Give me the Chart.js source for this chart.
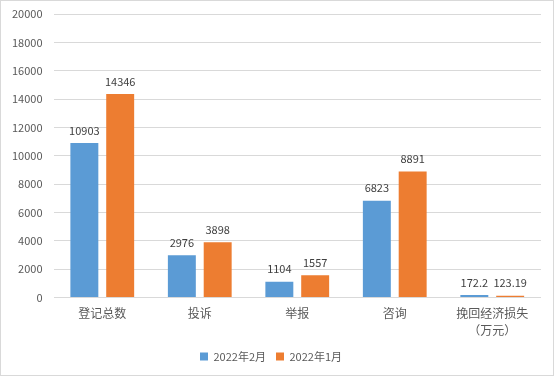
<!DOCTYPE html>
<html><head><meta charset="utf-8">
<script src="https://cdn.jsdelivr.net/npm/chart.js@4/dist/chart.umd.min.js"></script>
<style>
html,body{margin:0;padding:0;background:#fff;}
#wrap{position:relative;width:552px;height:374px;border:1px solid #d9d9d9;}
</style></head>
<body><div id="wrap"><canvas id="c"></canvas></div>
<script>
const categories = ["登记总数", "投诉", "举报", "咨询", ["挽回经济损失", "（万元）"]];
const feb2022 = [10903, 2976, 1104, 6823, 172.2];
const jan2022 = [14346, 3898, 1557, 8891, 123.19];
const seriesNames = ["2022年2月", "2022年1月"];
const yTicks = [0, 2000, 4000, 6000, 8000, 10000, 12000, 14000, 16000, 18000, 20000];

const fontFam = '"Microsoft YaHei","Noto Sans CJK SC","DejaVu Sans",sans-serif';

const labelPlugin = {
  id: 'vlabels',
  afterDatasetsDraw(chart) {
    const ctx = chart.ctx;
    ctx.save();
    ctx.font = '11px ' + fontFam;
    ctx.fillStyle = '#404040';
    ctx.textAlign = 'center';
    ctx.textBaseline = 'bottom';
    chart.data.datasets.forEach((ds, i) => {
      chart.getDatasetMeta(i).data.forEach((bar, j) => {
        ctx.fillText(String(ds.data[j]), bar.x, bar.y - 7);
      });
    });
    ctx.restore();
  }
};

new Chart(document.getElementById('c'), {
  type: 'bar',
  data: {
    labels: categories,
    datasets: [
      { label: seriesNames[0], data: feb2022, backgroundColor: '#5b9bd5', categoryPercentage: 0.735, barPercentage: 0.78 },
      { label: seriesNames[1], data: jan2022, backgroundColor: '#ed7d31', categoryPercentage: 0.735, barPercentage: 0.78 }
    ]
  },
  options: {
    responsive: true,
    maintainAspectRatio: false,
    animation: false,
    layout: { padding: { top: 13, right: 12, left: 0, bottom: 4 } },
    plugins: {
      legend: {
        position: 'bottom',
        maxHeight: 30,
        labels: { boxWidth: 8, boxHeight: 8, font: { size: 11, family: fontFam }, color: '#595959', padding: 10 }
      },
      tooltip: { enabled: false }
    },
    scales: {
      x: {
        grid: { display: false },
        border: { display: false },
        afterFit(axis) { axis.height += 2; },
        ticks: { font: { size: 12, family: fontFam, lineHeight: 1.4 }, color: '#595959', padding: 0 }
      },
      y: {
        min: 0, max: 20000,
        afterBuildTicks(axis) { axis.ticks = yTicks.map(v => ({ value: v })); },
        afterFit(axis) { axis.paddingTop = 0; axis.paddingBottom = 0; },
        grid: { color: '#d9d9d9', drawTicks: false },
        border: { display: false },
        ticks: { font: { size: 11, family: fontFam }, color: '#595959', padding: 11, callback: v => String(v) }
      }
    }
  },
  plugins: [labelPlugin]
});
</script></body></html>
